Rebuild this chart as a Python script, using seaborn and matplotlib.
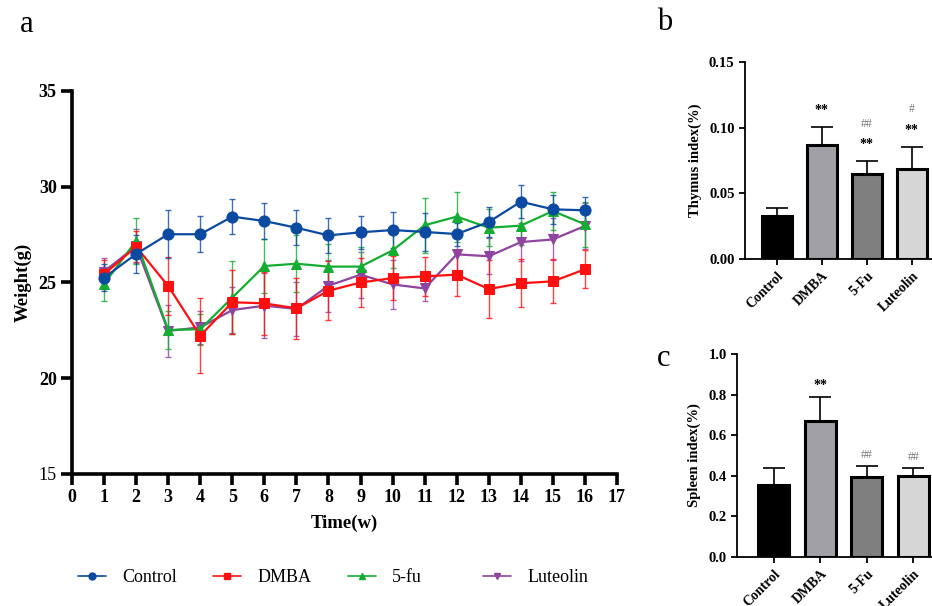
import numpy as np
import pandas as pd
import matplotlib
matplotlib.use("Agg")
import matplotlib.pyplot as plt
import seaborn as sns
from matplotlib.lines import Line2D

# Body weight over time (mean, SD)
weeks = list(range(1, 17))

control_w = [25.25, 26.49, 27.52, 27.52, 28.44, 28.21, 27.86, 27.46,
             27.62, 27.74, 27.64, 27.53, 28.16, 29.22, 28.82, 28.77]
control_sd = [0.7, 0.98, 1.25, 0.94, 0.92, 0.94, 0.9, 0.92,
              0.85, 0.93, 1.0, 0.6, 0.78, 0.86, 0.75, 0.7]

dmba_w = [25.43, 26.87, 24.82, 22.22, 23.97, 23.91, 23.65, 24.57,
          25.0, 25.23, 25.32, 25.41, 24.66, 24.96, 25.06, 25.69]
dmba_sd = [0.75, 0.8, 1.5, 1.96, 1.66, 1.65, 1.6, 1.55,
           1.27, 1.15, 1.0, 1.1, 1.5, 1.25, 1.15, 1.0]

fu_w = [24.92, 27.18, 22.52, 22.56, 24.21, 25.86, 25.98, 25.83,
        25.83, 26.68, 27.99, 28.44, 27.86, 27.97, 28.73, 28.04]
fu_sd = [0.9, 1.2, 1.0, 0.8, 1.9, 1.4, 1.5, 1.2,
         1.0, 0.9, 1.44, 1.3, 0.98, 1.0, 1.0, 1.17]

lut_w = [25.57, 26.9, 22.47, 22.66, 23.56, 23.79, 23.62, 24.83,
         25.41, 24.9, 24.69, 26.47, 26.37, 27.11, 27.25, 27.95]
lut_sd = [0.7, 0.9, 1.35, 0.85, 1.2, 1.7, 1.4, 1.35,
          1.2, 1.3, 0.66, 1.0, 0.93, 1.0, 1.1, 1.2]

# Organ indices
groups = ["Control", "DMBA", "5-Fu", "Luteolin"]
thymus_mean = [0.0325, 0.0868, 0.0645, 0.0683]
thymus_sd = [0.0061, 0.0135, 0.0099, 0.0170]
thymus_star = ["", "**", "**", "**"]
thymus_hash = ["", "", "##", "#"]

spleen_mean = [0.357, 0.672, 0.395, 0.400]
spleen_sd = [0.079, 0.115, 0.054, 0.036]
spleen_star = ["", "**", "", ""]
spleen_hash = ["", "", "##", "##"]

bar_colors = ["#000000", "#a19fa7", "#7f7f7f", "#d6d6d6"]

sns.set_style("ticks")
plt.rcParams["font.family"] = ["Liberation Serif", "DejaVu Serif"]
plt.rcParams["axes.edgecolor"] = "black"
plt.rcParams["xtick.color"] = "black"
plt.rcParams["ytick.color"] = "black"
plt.rcParams["text.color"] = "black"
plt.rcParams["axes.labelcolor"] = "black"

fig = plt.figure(figsize=(9.32, 6.06), dpi=100)

# Panel a
ax = fig.add_axes([72 / 932, 132 / 606, 545 / 932, 383 / 606])

series = [
    ("Luteolin", lut_w, lut_sd, "#8e44a0", "v", 7),
    ("5-fu", fu_w, fu_sd, "#14ad32", "^", 7),
    ("DMBA", dmba_w, dmba_sd, "#ff1010", "s", 7),
    ("Control", control_w, control_sd, "#0b4aa0", "o", 8),
]

for z, (name, vals, sd, color, marker, ms) in enumerate(series):
    ax.errorbar(
        weeks, vals, yerr=sd,
        fmt="none", ecolor=color, elinewidth=1.0,
        capsize=2.5, capthick=1.0, alpha=0.8, zorder=2 + z
    )
    sns.lineplot(
        x=weeks, y=vals, ax=ax,
        color=color, marker=marker, markersize=ms,
        markeredgecolor=color, linewidth=1.6,
        zorder=6 + z, legend=False
    )

ax.set_xlim(0, 17)
ax.set_ylim(15, 35)
ax.set_xticks(range(0, 18))
ax.set_yticks([15, 20, 25, 30, 35])
for side in ["top", "right"]:
    ax.spines[side].set_visible(False)
for side in ["left", "bottom"]:
    ax.spines[side].set_linewidth(2.6)
ax.tick_params(axis="both", length=8, width=2.6, labelsize=13, direction="out",
               pad=3)
for lab in ax.get_xticklabels() + ax.get_yticklabels():
    lab.set_fontweight("bold")
ax.get_yticklabels()[0].set_fontweight("normal")

ax.set_xlabel("Time(w)", fontsize=13.5, fontweight="bold", labelpad=6)
ax.set_ylabel("Weight(g)", fontsize=13.5, fontweight="bold", labelpad=5)

# legend: one entry per slot so the spacing matches
legend_items = [
    ("Control", "#0b4aa0", "o", 78),
    ("DMBA", "#ff1010", "s", 213),
    ("5-fu", "#14ad32", "^", 348),
    ("Luteolin", "#8e44a0", "v", 483),
]
for label, color, marker, xpix in legend_items:
    h = Line2D([], [], color=color, marker=marker, markersize=5, linewidth=1.2)
    leg = fig.legend(
        [h], [label], loc="center left",
        bbox_to_anchor=(xpix / 932, 1 - 578 / 606),
        frameon=False, fontsize=13, handlelength=1.55,
        handletextpad=0.9, borderaxespad=0, borderpad=0
    )


def bar_panel(rect, means, sds, stars, hashes, ylim, yticks, fmt, ylabel,
              xlim, star_off, hash_off):
    bx = fig.add_axes(rect)
    df = pd.DataFrame({"group": groups, "value": means})
    sns.barplot(
        data=df, x="group", y="value", hue="group", palette=bar_colors,
        order=groups, hue_order=groups, width=0.66, edgecolor="black",
        linewidth=2.2, legend=False, ax=bx
    )
    bx.errorbar(
        range(len(groups)), means, yerr=[np.zeros(len(sds)), sds],
        fmt="none", ecolor="black", elinewidth=1.2, capsize=8, capthick=1.2,
        zorder=1
    )
    for i, (m, s) in enumerate(zip(means, sds)):
        top = m + s
        if stars[i]:
            bx.text(i, top + star_off, stars[i], ha="center", va="center",
                    fontsize=10, fontweight="bold", color="black")
        if hashes[i]:
            y = top + (hash_off if not stars[i] else 2.3 * star_off)
            bx.text(i, y, hashes[i], ha="center", va="center",
                    fontsize=8.5, color="#777777")
    bx.set_xlim(*xlim)
    bx.set_ylim(*ylim)
    bx.set_yticks(yticks)
    bx.set_yticklabels([fmt.format(t) for t in yticks])
    for side in ["top", "right"]:
        bx.spines[side].set_visible(False)
    for side in ["left", "bottom"]:
        bx.spines[side].set_linewidth(1.3)
    bx.tick_params(axis="both", length=4, width=1.3, labelsize=10.5)
    bx.set_xticks(range(len(groups)))
    bx.set_xticklabels(groups, rotation=45, ha="right", rotation_mode="anchor",
                       fontweight="bold", fontsize=10)
    for lab in bx.get_yticklabels():
        lab.set_fontweight("bold")
    bx.set_xlabel("")
    bx.set_ylabel(ylabel, fontsize=10.5, fontweight="bold", labelpad=5)
    return bx


bar_panel([745 / 932, 1 - 259 / 606, 187 / 932, 197 / 606],
          thymus_mean, thymus_sd, thymus_star, thymus_hash,
          (0, 0.15), [0.0, 0.05, 0.10, 0.15], "{:.2f}", "Thymus index(%)",
          (-0.71, 3.45), 0.0125, 0.0095)

bar_panel([737 / 932, 1 - 557 / 606, 195 / 932, 203 / 606],
          spleen_mean, spleen_sd, spleen_star, spleen_hash,
          (0, 1.0), [0.0, 0.2, 0.4, 0.6, 0.8, 1.0], "{:.1f}", "Spleen index(%)",
          (-0.79, 3.4), 0.06, 0.055)

fig.text(20 / 932, 1 - 25 / 606, "a", fontsize=22, va="center")
fig.text(657 / 932, 1 - 22 / 606, "b", fontsize=22, va="center")
fig.text(657 / 932, 1 - 358 / 606, "c", fontsize=22, va="center")

fig.savefig("out.png", dpi=100)
